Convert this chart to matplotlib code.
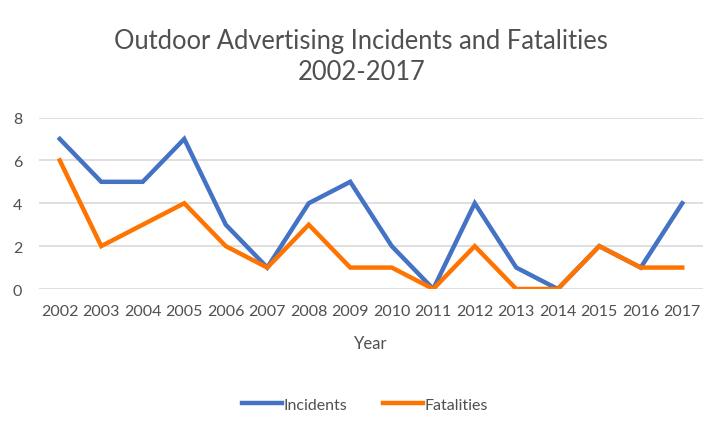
import matplotlib.pyplot as plt
import numpy as np

years = ['2002', '2003', '2004', '2005', '2006', '2007', '2008', '2009',
         '2010', '2011', '2012', '2013', '2014', '2015', '2016', '2017']
incidents = [7, 5, 5, 7, 3, 1, 4, 5, 2, 0, 4, 1, 0, 2, 1, 4]
fatalities = [6, 2, 3, 4, 2, 1, 3, 1, 1, 0, 2, 0, 0, 2, 1, 1]

plt.rcParams['font.family'] = ['Lato', 'DejaVu Sans']
txt = '#505050'

fig = plt.figure(figsize=(7.27, 4.35), dpi=100)
ax = fig.add_axes([39/727, (435-290)/435, (703-39)/727, (290-118.5)/435])

x = np.arange(len(years))
ax.plot(x, incidents, color='#4472C4', lw=3.2, label='Incidents', solid_joinstyle='miter')
ax.plot(x, fatalities, color='#FF7400', lw=3.2, label='Fatalities', solid_joinstyle='miter')

ax.set_xlim(-0.5, len(years) - 0.5)
ax.set_ylim(0, 8)
ax.set_yticks([0, 2, 4, 6, 8])
ax.set_xticks(x)
ax.set_xticklabels(years)
ax.grid(axis='y', color='#D9D9D9', lw=1.2)
ax.set_axisbelow(True)
for s in ax.spines.values():
    s.set_visible(False)
ax.tick_params(length=0, labelsize=11.5, colors=txt, pad=11)
ax.tick_params(axis='y', pad=12)
ax.set_xlabel('Year', fontsize=12, color=txt, labelpad=12)

fig.text(0.497, 0.868, 'Outdoor Advertising Incidents and Fatalities\n2002-2017',
         ha='center', va='center', fontsize=18.4, color=txt, linespacing=1.3)

fig.legend(loc='center', bbox_to_anchor=(0.502, 0.068), ncol=2, frameon=False,
           fontsize=11.5, labelcolor=txt, handlelength=2.5, handletextpad=0.1,
           columnspacing=2.2)

fig.savefig('out.png', dpi=100)
